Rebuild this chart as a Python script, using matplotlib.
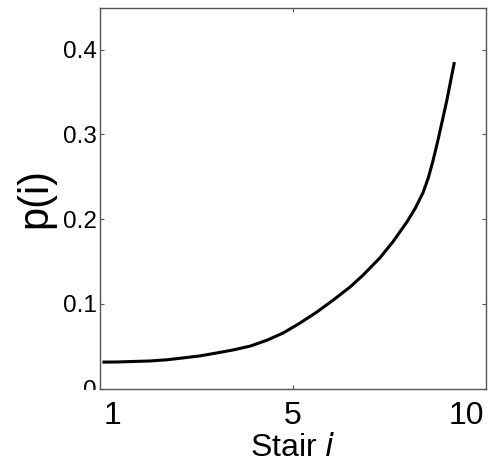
"""Probability of stopping at each stair, p(i)."""
import matplotlib
matplotlib.use("Agg")
import matplotlib.pyplot as plt
from matplotlib.patches import Rectangle

plt.rcParams["font.family"] = ["Liberation Sans", "DejaVu Sans"]

# curve
stair = [0.80, 1.13, 1.54, 1.97, 2.40, 2.81, 3.24, 3.67, 4.08, 4.51,
         4.94, 5.35, 5.78, 6.21, 6.62, 7.05, 7.38, 7.81, 8.14, 8.49,
         8.70, 8.90, 9.03, 9.15, 9.28, 9.41, 9.51, 9.59, 9.69]
p_i = [0.0314, 0.0315, 0.0321, 0.0327, 0.0341, 0.0363, 0.0387, 0.0422,
       0.0457, 0.0502, 0.0572, 0.0657, 0.0775, 0.0906, 0.1045, 0.1200,
       0.1340, 0.1545, 0.1735, 0.1965, 0.2125, 0.2310, 0.2480, 0.2680,
       0.2930, 0.3200, 0.3410, 0.3600, 0.3835]

x_tick_pos = [1.03, 5.6, 9.99]
x_tick_labels = ["1", "5", "10"]
y_ticks = [0, 0.1, 0.2, 0.3, 0.4]
y_tick_labels = ["0", "0.1", "0.2", "0.3", "0.4"]

fig = plt.figure(figsize=(4.89, 4.62), dpi=100)
ax = fig.add_axes([100 / 489, 1 - 388.7 / 462, 386 / 489, 380.7 / 462])

ax.plot(stair, p_i, color="black", lw=2.2, solid_joinstyle="round")

ax.set_xlim(0.7, 10.5)
ax.set_ylim(0, 0.449)
ax.set_xticks(x_tick_pos)
ax.set_xticklabels(x_tick_labels, fontsize=23)
ax.set_yticks(y_ticks)
ax.set_yticklabels(y_tick_labels, fontsize=17.5)
ax.tick_params(direction="in", length=3, width=0.8, color="#555555",
               top=True, right=True)
ax.tick_params(axis="x", pad=9)
ax.tick_params(axis="y", pad=2.5)
# only the middle x tick has a visible mark
for i in (0, 2):
    t = ax.xaxis.get_major_ticks()[i]
    t.tick1line.set_visible(False)
    t.tick2line.set_visible(False)

for s in ax.spines.values():
    s.set_color("#555555")
    s.set_linewidth(1.0)

ax.set_xlabel("Stair $\\mathit{i}$", fontsize=23, labelpad=1)
ax.set_ylabel("p(i)", fontsize=30, labelpad=5)

# the "0" label is cut off below the axis line in the original
fig.add_artist(Rectangle((0, 0), 95 / 489, 1 - 390 / 462,
                         transform=fig.transFigure, color="white", zorder=5))

fig.savefig("out.png", dpi=100)
